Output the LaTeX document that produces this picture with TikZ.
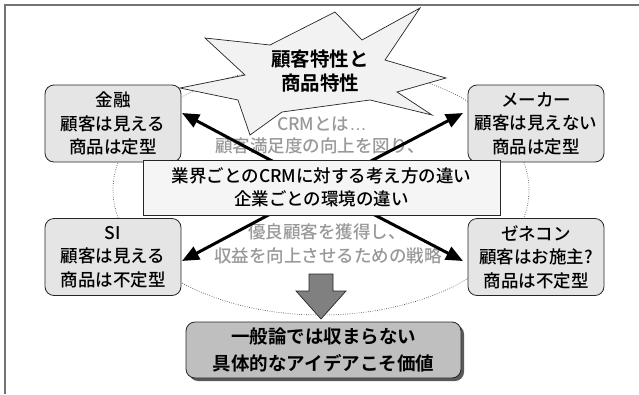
\documentclass[tikz,border=0pt]{standalone}
\usepackage{fontspec}
\setmainfont{Noto Sans CJK JP}[UprightFont={* Medium}, BoldFont={* Bold}]
\newfontfamily\latinfont{Liberation Sans}
\usetikzlibrary{arrows.meta,shadows}
\begin{document}
\begin{tikzpicture}[x=1pt,y=-1pt,
  txt/.style={font=\fontsize{17.5}{23.5}\selectfont, align=center, inner sep=0pt},
  catbox/.style={txt, draw=black!85, line width=0.8pt, fill=black!10, rounded corners=9pt,
    minimum width=136pt, minimum height=77pt},
  midbox/.style={txt, draw=black!85, line width=0.8pt, fill=black!4,
    minimum width=357pt, minimum height=55pt},
  resbox/.style={font=\fontsize{18.5}{27}\selectfont\bfseries, align=center, inner sep=0pt,
    draw=black!85, line width=0.8pt, fill=black!25, rounded corners=9pt,
    minimum width=275pt, minimum height=56pt,
    drop shadow={shadow xshift=3pt, shadow yshift=-3pt, fill=black!65, opacity=1}},
  graytxt/.style={txt, text=black!40},
  bigarrow/.style={line width=3pt, -{Triangle[length=17pt,width=14pt]}},
  frameline/.style={draw=black!55, line width=1.6pt},
  orbit/.style={draw=black!80, line width=0.6pt, dash pattern=on 0.7pt off 1.6pt}
]
\useasboundingbox (0,0) rectangle (639,394);
\draw[frameline] (5,394) -- (5,5) -- (639,5);
\draw[orbit] (321,190) ellipse [x radius=208pt, y radius=125pt];

% star
\draw[draw=black!85, line width=0.7pt, fill=black!5]
  (180,88) -- (245,75) -- (205,38) -- (270,45) -- (335,12) -- (362,40)
  -- (420,8) -- (385,60) -- (446,78) -- (397,92) -- (432,115) -- (370,100)
  -- (282,112) -- (250,135) -- (238,100) -- cycle;
\node[txt, font=\fontsize{19.5}{24}\selectfont\bfseries] (star) at (320,71.5) {顧客特性と\\商品特性};

% gray texts
\node[graytxt] (g1) at (322,124) {CRMとは{\latinfont …}};
\node[graytxt] (g2) at (320,146) {顧客満足度の向上を図り、};
\node[graytxt] (g3) at (327,232) {優良顧客を獲得し、};
\node[graytxt] (g4) at (328,256) {収益を向上させるための戦略};

% boxes
\node[catbox] (b1) at (113,123.5) {金融\\顧客は見える\\商品は定型};
\node[catbox] (b2) at (536,123.5) {メーカー\\顧客は見えない\\商品は定型};
\node[catbox] (b3) at (113,257) {SI\\顧客は見える\\商品は不定型};
\node[catbox] (b4) at (536,257) {ゼネコン\\顧客はお施主?\\商品は不定型};

% arrows
\coordinate (ctr) at (321,187);
\coordinate (t1) at (182,113);
\coordinate (t2) at (463,113);
\coordinate (t3) at (182,261);
\coordinate (t4) at (463,261);
\draw[bigarrow] (ctr) -- (t1);
\draw[bigarrow] (ctr) -- (t2);
\draw[bigarrow] (ctr) -- (t3);
\draw[bigarrow] (ctr) -- (t4);

\node[midbox] (mid) at (321.5,187.5) {業界ごとのCRMに対する考え方の違い\\企業ごとの環境の違い};

% down arrow
\draw[draw=black!85, line width=0.7pt, fill=black!50]
  (309,274) -- (333,274) -- (333,291) -- (346,291) -- (321,319) -- (296,291) -- (309,291) -- cycle;

\node[resbox] (res) at (323.5,350) {一般論では収まらない\\具体的なアイデアこそ価値};
\end{tikzpicture}
\end{document}
